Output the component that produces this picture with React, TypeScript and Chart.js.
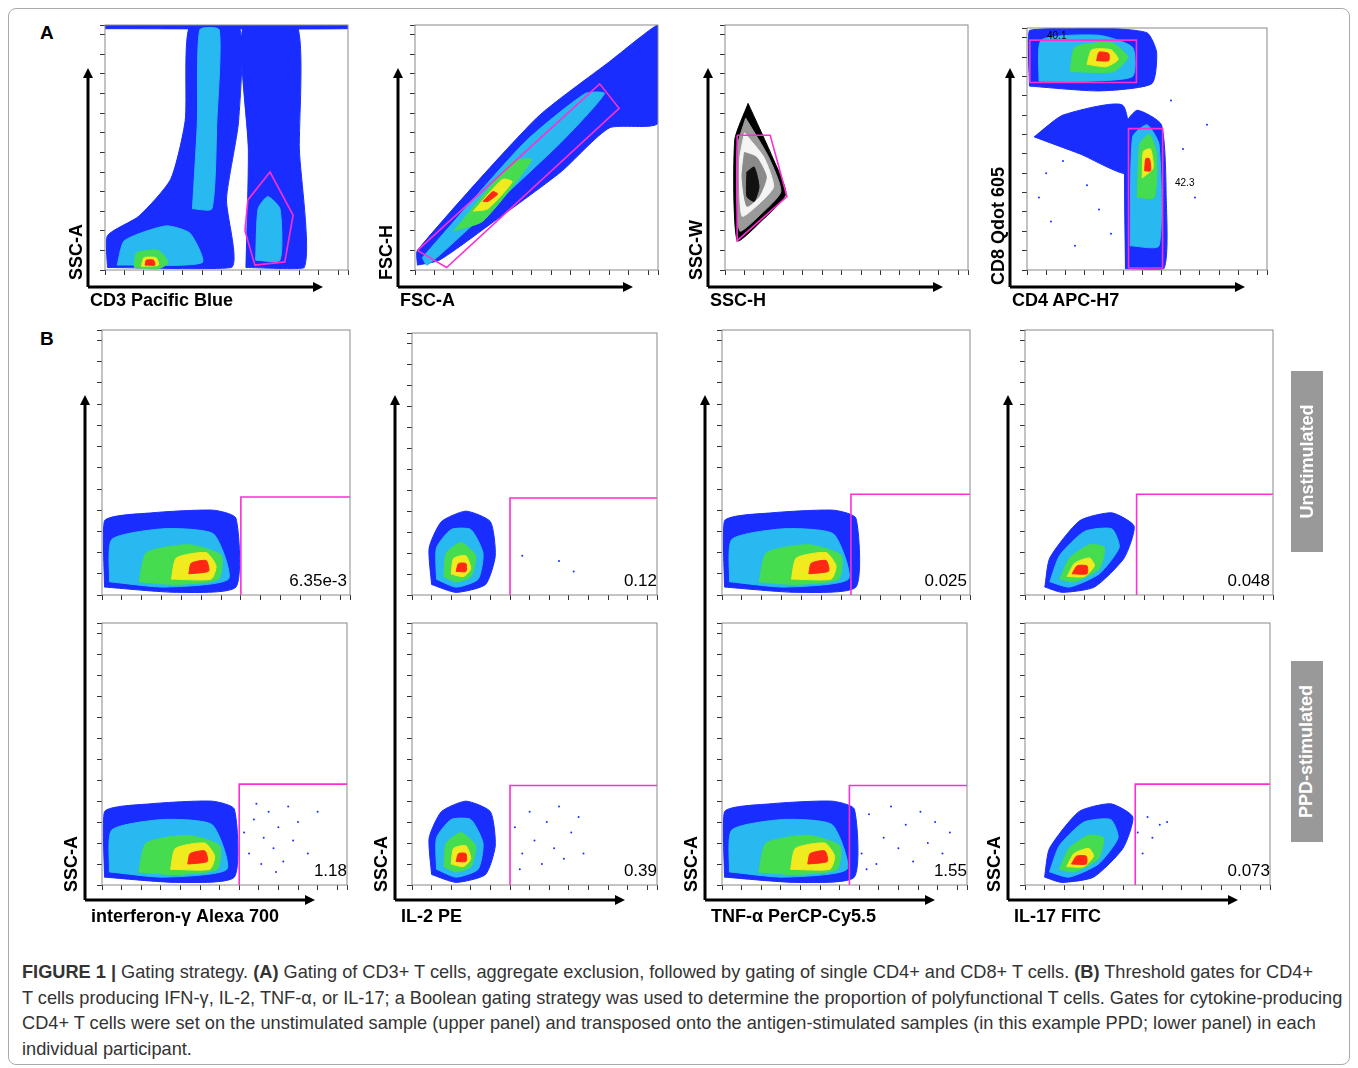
import { useEffect, useRef } from 'react'
import { Chart, registerables } from 'chart.js'

Chart.register(...registerables)

type Pt = [number, number]
type Layer = { color: string; polys: Pt[][] }

const BLUE = 'rgb(25,45,255)'
const CYAN = 'rgb(40,185,240)'
const GREEN = 'rgb(70,220,80)'
const YELLOW = 'rgb(240,235,30)'
const RED = 'rgb(255,40,20)'
const MAGENTA = '#ff2ed2'

// ---- panel A data (0-100 relative units) ----
const p1Blue: Pt[][] = [
  [[1, 1], [1, 14], [14, 22], [27, 37], [33, 61], [35, 100], [55, 100], [55, 61], [50, 29], [52, 1]],
  [[58, 1], [59, 49], [57, 100], [79, 100], [80, 49], [82, 1]],
  [[0, 98.5], [100, 98.5], [100, 100], [0, 100]],
]
const p1Cyan: Pt[][] = [
  [[36, 25], [38, 60], [39, 98], [47, 98], [46, 60], [44, 25]],
  [[5, 2], [8, 12], [25, 18], [35, 15], [40, 3]],
  [[62, 4], [63, 25], [67, 30], [72, 25], [72, 4]],
]
const p1Green: Pt[][] = [[[12, 1], [13, 7], [22, 8], [26, 3], [22, 0.5]]]
const p1Yellow: Pt[][] = [[[15, 1.5], [16, 5], [21, 5], [22, 2]]]
const p1Red: Pt[][] = [[[16.5, 2], [17, 4], [20, 4], [20.5, 2]]]
const p1Gate: Pt[] = [[57.6, 16], [58.8, 28.6], [67.9, 40], [77.4, 22.4], [74, 3.3], [61.7, 2], [57.6, 16]]

const p2Blue: Pt[][] = [[[1, 2], [1, 8], [50, 62], [80, 85], [100, 100], [100, 60], [80, 58], [60, 40], [30, 18], [10, 4]]]
const p2Cyan: Pt[][] = [[[3, 5], [45, 52], [70, 72], [78, 72], [60, 52], [20, 15], [5, 2]]]
const p2Green: Pt[][] = [[[16, 16], [40, 44], [48, 45], [28, 20]]]
const p2Yellow: Pt[][] = [[[24, 24], [36, 37], [40, 36], [30, 25]]]
const p2Red: Pt[][] = [[[28, 28], [32, 32], [34, 31], [30, 28]]]
const p2Gate: Pt[] = [[1, 8], [76, 76], [84, 66], [13, 1], [1, 8]]

const p3Black: Pt[][] = [[[9.5, 68], [4, 53], [5, 12], [15, 20], [25, 31], [20, 45]]]
const p3Gray: Pt[][] = [[[8.5, 62], [5, 50], [6, 16], [15, 23], [23, 32], [18, 46]]]
const p3White: Pt[][] = [[[8, 56], [6, 45], [7, 22], [14, 27], [20, 34], [16, 46]]]
const p3Gray2: Pt[][] = [[[8, 48], [7, 38], [9, 26], [14, 30], [17, 38], [13, 46]]]
const p3Core: Pt[][] = [[[9, 40], [9, 30], [12, 28], [14, 34], [12, 42]]]
const p3Gate: Pt[] = [[5, 55], [5, 12], [25.5, 30], [18.6, 55], [5, 55]]

const p4Blue: Pt[][] = [
  [[1, 76], [1, 99], [30, 100], [50, 98], [54, 90], [52, 77], [30, 74]],
  [[41, 0.5], [41, 60], [46, 66], [56, 60], [58, 30], [57, 0.5]],
  [[3, 55], [15, 64], [40, 68], [42, 40], [22, 48]],
]
const p4Cyan: Pt[][] = [
  [[5, 78], [6, 95], [30, 97], [44, 92], [44, 80], [25, 78]],
  [[43, 10], [44, 55], [50, 60], [55, 52], [55, 10]],
]
const p4Green: Pt[][] = [
  [[18, 82], [20, 92], [35, 94], [42, 88], [36, 82]],
  [[46, 30], [47, 52], [51, 56], [54, 48], [53, 30]],
]
const p4Yellow: Pt[][] = [
  [[25, 85], [27, 91], [35, 91], [38, 87], [33, 84]],
  [[48, 38], [48.5, 49], [51.5, 50], [52.5, 42]],
]
const p4Red: Pt[][] = [
  [[29, 86.5], [30, 90], [34, 89.5], [34, 86.5]],
  [[49, 41], [49.5, 46], [51, 46], [51.5, 41]],
]
const p4GateTop: Pt[] = [[1.2, 77.5], [1.2, 95], [45.6, 95], [45.6, 77.5], [1.2, 77.5]]
const p4GateRight: Pt[] = [[42.3, 0.8], [42.3, 58.4], [56.5, 58.4], [56.5, 0.8], [42.3, 0.8]]
const p4Dots: Pt[] = [[5, 30], [10, 20], [15, 45], [20, 10], [25, 35], [30, 25], [35, 15], [60, 70], [65, 50], [70, 30], [75, 60], [8, 40], [28, 50]]

// ---- panel B blob shapes ----
const wideBlue: Pt[][] = [[[1, 3], [1, 28], [20, 31], [45, 32], [54, 29], [54, 3], [30, 1]]]
const wideCyan: Pt[][] = [[[3, 5], [4, 21], [25, 25], [45, 23], [51, 6], [25, 3]]]
const wideGreen: Pt[][] = [[[15, 5], [18, 16], [35, 19], [48, 15], [47, 6], [30, 4]]]
const wideYellow: Pt[][] = [[[28, 6], [30, 14], [42, 16], [46, 11], [44, 6]]]
const wideRed: Pt[][] = [[[35, 8], [36, 12], [42, 13], [43, 9]]]

const roundBlue: Pt[][] = [[[8, 4], [7, 18], [12, 28], [22, 32], [32, 28], [34, 15], [30, 4], [18, 1]]]
const roundCyan: Pt[][] = [[[10, 6], [10, 18], [16, 25], [24, 25], [29, 16], [27, 6], [18, 3]]]
const roundGreen: Pt[][] = [[[13, 7], [14, 16], [20, 20], [26, 15], [24, 7], [18, 5]]]
const roundYellow: Pt[][] = [[[16, 8], [17, 14], [22, 15], [24, 10], [21, 7]]]
const roundRed: Pt[][] = [[[18, 9], [19, 12], [22, 12], [22, 9]]]

const tiltBlue: Pt[][] = [[[8, 3], [10, 14], [22, 28], [35, 31], [44, 26], [40, 14], [28, 3], [15, 1]]]
const tiltCyan: Pt[][] = [[[10, 5], [14, 15], [24, 24], [35, 25], [38, 18], [30, 8], [18, 3]]]
const tiltGreen: Pt[][] = [[[14, 6], [18, 14], [26, 19], [32, 18], [30, 10], [20, 5]]]
const tiltYellow: Pt[][] = [[[17, 7], [20, 12], [26, 14], [28, 11], [24, 7]]]
const tiltRed: Pt[][] = [[[19, 8], [21, 11], [25, 11], [25, 8]]]

const ppdDots1: Pt[] = [[58, 20], [60, 12], [62, 25], [65, 8], [66, 18], [68, 28], [70, 14], [72, 22], [74, 9], [76, 30], [78, 17], [80, 24], [84, 12], [88, 28], [63, 31], [71, 5]]
const ppdDots2: Pt[] = [[42, 22], [45, 12], [48, 28], [50, 17], [53, 8], [55, 24], [58, 14], [60, 30], [62, 10], [65, 20], [68, 26], [70, 12], [44, 6]]
const ppdDots3: Pt[] = [[54, 20], [57, 12], [60, 27], [63, 8], [66, 18], [69, 30], [72, 14], [75, 23], [78, 9], [81, 28], [84, 16], [87, 24], [90, 12], [93, 20], [95, 8], [59, 6]]
const ppdDots4: Pt[] = [[46, 20], [48, 12], [50, 26], [52, 18], [55, 23], [58, 24]]
const unstimDots2: Pt[] = [[45, 15], [60, 13], [66, 9]]

const gateValuesRow1 = ['6.35e-3', '0.12', '0.025', '0.048']
const gateValuesRow2 = ['1.18', '0.39', '1.55', '0.073']
const gateX = [56, 40, 52, 45]
const gateYRow1 = [37, 37, 38, 38]
const gateYRow2 = [38.5, 38, 38, 38.5]
const xLabelsB = ['interferon-γ Alexa 700', 'IL-2 PE', 'TNF-α PerCP-Cy5.5', 'IL-17 FITC']

const heat = (b: Pt[][], c: Pt[][], g: Pt[][], y: Pt[][], r: Pt[][]): Layer[] => [
  { color: BLUE, polys: b },
  { color: CYAN, polys: c },
  { color: GREEN, polys: g },
  { color: YELLOW, polys: y },
  { color: RED, polys: r },
]

const boxPlugin = {
  id: 'box',
  afterDraw(chart: Chart) {
    const { ctx, chartArea: a } = chart
    ctx.save()
    ctx.strokeStyle = '#8a8a8a'
    ctx.lineWidth = 1
    ctx.strokeRect(a.left, a.top, a.right - a.left, a.bottom - a.top)
    ctx.restore()
  },
}

interface PanelProps {
  left: number
  top: number
  width: number
  height: number
  layers: Layer[]
  gates: Pt[][]
  dots?: Pt[]
}

function Panel({ left, top, width, height, layers, gates, dots = [] }: PanelProps) {
  const canvasRef = useRef<HTMLCanvasElement>(null)

  useEffect(() => {
    if (!canvasRef.current) return
    const datasets: any[] = []
    layers.forEach((layer) =>
      layer.polys.forEach((poly) =>
        datasets.push({
          type: 'scatter',
          data: [...poly, poly[0]].map(([x, y]) => ({ x, y })),
          showLine: true,
          fill: 'shape',
          backgroundColor: layer.color,
          borderColor: layer.color,
          borderWidth: 1,
          tension: 0.2,
          pointRadius: 0,
        })
      )
    )
    datasets.push({
      type: 'scatter',
      data: dots.map(([x, y]) => ({ x, y })),
      pointRadius: 1,
      backgroundColor: BLUE,
      borderWidth: 0,
    })
    gates.forEach((g) =>
      datasets.push({
        type: 'scatter',
        data: g.map(([x, y]) => ({ x, y })),
        showLine: true,
        fill: false,
        borderColor: MAGENTA,
        borderWidth: 1.6,
        tension: 0,
        pointRadius: 0,
      })
    )
    datasets.forEach((d, i) => (d.order = datasets.length - i))

    const axis = (w: 'x' | 'y') => ({
      type: 'linear',
      min: 0,
      max: 100,
      border: { display: false },
      grid: { drawOnChartArea: false, drawTicks: true, tickLength: 5, color: '#333' },
      ticks: { stepSize: 8, callback: () => '', font: { size: 1 }, padding: 0 },
      afterFit: (s: any) => {
        if (w === 'y') s.width = 8
        else s.height = 8
      },
    })

    const chart = new Chart(canvasRef.current, {
      type: 'scatter',
      data: { datasets },
      options: {
        animation: false,
        responsive: true,
        maintainAspectRatio: false,
        layout: { padding: { top: 1, right: 1 } },
        plugins: { legend: { display: false }, tooltip: { enabled: false } },
        scales: { x: axis('x'), y: axis('y') } as any,
      },
      plugins: [boxPlugin],
    })
    return () => chart.destroy()
  }, [layers, gates, dots])

  return (
    <div style={{ position: 'absolute', left: left - 8, top: top - 1, width: width + 9, height: height + 9 }}>
      <canvas ref={canvasRef} />
    </div>
  )
}

function Arrows({ x, yTop, y, xRight }: { x: number; yTop: number; y: number; xRight: number }) {
  return (
    <svg style={{ position: 'absolute', left: 0, top: 0, overflow: 'visible' }} width={1} height={1}>
      <line x1={x} y1={y} x2={x} y2={yTop + 8} stroke="#000" strokeWidth={3} />
      <polygon points={`${x - 5},${yTop + 10} ${x + 5},${yTop + 10} ${x},${yTop}`} fill="#000" />
      <line x1={x} y1={y} x2={xRight - 8} y2={y} stroke="#000" strokeWidth={3} />
      <polygon points={`${xRight - 10},${y - 5} ${xRight - 10},${y + 5} ${xRight},${y}`} fill="#000" />
    </svg>
  )
}

const labelFont = 'Arial, "Liberation Sans", Helvetica, sans-serif'

function XLabel({ x, y, text }: { x: number; y: number; text: string }) {
  return (
    <div style={{ position: 'absolute', left: x, top: y, fontWeight: 'bold', fontSize: 18, whiteSpace: 'nowrap' }}>
      {text}
    </div>
  )
}

function YLabel({ x, bottom, text }: { x: number; bottom: number; text: string }) {
  return (
    <div
      style={{
        position: 'absolute', left: x, top: bottom, fontWeight: 'bold', fontSize: 18, whiteSpace: 'nowrap',
        transform: 'rotate(-90deg)', transformOrigin: '0 0',
      }}
    >
      {text}
    </div>
  )
}

function Tag({ top, text }: { top: number; text: string }) {
  return (
    <div
      style={{
        position: 'absolute', left: 1291, top, width: 32, height: 181, background: '#999',
        display: 'flex', alignItems: 'center', justifyContent: 'center',
      }}
    >
      <div style={{ transform: 'rotate(-90deg)', color: '#fff', fontWeight: 'bold', fontSize: 18, whiteSpace: 'nowrap' }}>
        {text}
      </div>
    </div>
  )
}

const topPlots = [
  { left: 105, layers: heat(p1Blue, p1Cyan, p1Green, p1Yellow, p1Red), gates: [p1Gate], dots: [] as Pt[], ax: 88, xl: 'CD3 Pacific Blue', yl: 'SSC-A' },
  { left: 415, layers: heat(p2Blue, p2Cyan, p2Green, p2Yellow, p2Red), gates: [p2Gate], dots: [] as Pt[], ax: 398, xl: 'FSC-A', yl: 'FSC-H' },
  {
    left: 725,
    layers: [
      { color: '#000', polys: p3Black },
      { color: '#9a9a9a', polys: p3Gray },
      { color: '#f4f4f4', polys: p3White },
      { color: '#8a8a8a', polys: p3Gray2 },
      { color: '#111', polys: p3Core },
    ],
    gates: [p3Gate], dots: [] as Pt[], ax: 708, xl: 'SSC-H', yl: 'SSC-W',
  },
  { left: 1027, layers: heat(p4Blue, p4Cyan, p4Green, p4Yellow, p4Red), gates: [p4GateTop, p4GateRight], dots: p4Dots, ax: 1010, xl: 'CD4 APC-H7', yl: 'CD8 Qdot 605' },
]

const bottomLefts = [102, 412, 722, 1025]
const bottomLayers = [
  heat(wideBlue, wideCyan, wideGreen, wideYellow, wideRed),
  heat(roundBlue, roundCyan, roundGreen, roundYellow, roundRed),
  heat(wideBlue, wideCyan, wideGreen, wideYellow, wideRed),
  heat(tiltBlue, tiltCyan, tiltGreen, tiltYellow, tiltRed),
]
const row1Dots: Pt[][] = [[], unstimDots2, [], []]
const row2Dots = [ppdDots1, ppdDots2, ppdDots3, ppdDots4]
const gatePath = (gx: number, gy: number): Pt[] => [[gx, 0], [gx, gy], [100, gy]]

export default function App() {
  return (
    <div style={{ position: 'absolute', left: 0, top: 0, width: 1358, height: 1068, fontFamily: labelFont, background: '#fff' }}>
      <div style={{ position: 'absolute', left: 8, top: 8, width: 1340, height: 1055, border: '1px solid #aaa', borderRadius: 8 }} />
      <div style={{ position: 'absolute', left: 40, top: 22, fontWeight: 'bold', fontSize: 19 }}>A</div>
      <div style={{ position: 'absolute', left: 40, top: 328, fontWeight: 'bold', fontSize: 19 }}>B</div>

      {topPlots.map((p, i) => (
        <div key={'t' + i}>
          <Panel left={p.left} top={25} width={243} height={245} layers={p.layers} gates={p.gates} dots={p.dots} />
          <Arrows x={p.ax} yTop={68} y={287} xRight={p.ax + 235} />
          <XLabel x={p.ax + 2} y={290} text={p.xl} />
          <YLabel x={p.ax - 22} bottom={i === 3 ? 285 : 280} text={p.yl} />
        </div>
      ))}
      <div style={{ position: 'absolute', left: 1047, top: 30, fontSize: 10 }}>40.1</div>
      <div style={{ position: 'absolute', left: 1175, top: 177, fontSize: 10 }}>42.3</div>

      {bottomLefts.map((l, i) => (
        <div key={'b' + i}>
          <Panel left={l} top={330} width={248} height={265} layers={bottomLayers[i]} gates={[gatePath(gateX[i], gateYRow1[i])]} dots={row1Dots[i]} />
          <div style={{ position: 'absolute', left: l, top: 571, width: 245, textAlign: 'right', fontSize: 17 }}>{gateValuesRow1[i]}</div>
          <Panel left={l} top={620} width={248} height={265} layers={bottomLayers[i]} gates={[gatePath(gateX[i], gateYRow2[i])]} dots={row2Dots[i]} />
          <div style={{ position: 'absolute', left: l, top: 861, width: 245, textAlign: 'right', fontSize: 17 }}>{gateValuesRow2[i]}</div>
          <Arrows x={l - 17} yTop={395} y={900} xRight={l + 213} />
          <XLabel x={l - 11} y={906} text={xLabelsB[i]} />
          <YLabel x={l - 41} bottom={892} text="SSC-A" />
        </div>
      ))}
      <Tag top={371} text="Unstimulated" />
      <Tag top={661} text="PPD-stimulated" />

      <div style={{ position: 'absolute', left: 22, top: 960, fontSize: 18.2, lineHeight: '25.5px', color: '#333', whiteSpace: 'nowrap' }}>
        <b>FIGURE 1 |</b> Gating strategy. <b>(A)</b> Gating of CD3+ T cells, aggregate exclusion, followed by gating of single CD4+ and CD8+ T cells. <b>(B)</b> Threshold gates for CD4+<br />
        T cells producing IFN-γ, IL-2, TNF-α, or IL-17; a Boolean gating strategy was used to determine the proportion of polyfunctional T cells. Gates for cytokine-producing<br />
        CD4+ T cells were set on the unstimulated sample (upper panel) and transposed onto the antigen-stimulated samples (in this example PPD; lower panel) in each<br />
        individual participant.
      </div>
    </div>
  )
}
